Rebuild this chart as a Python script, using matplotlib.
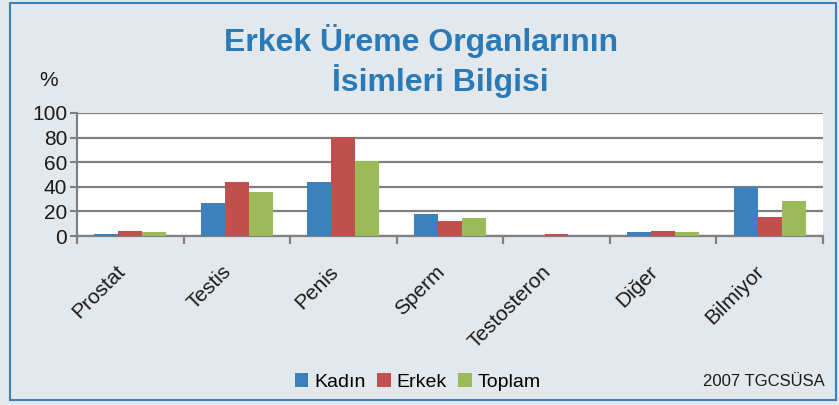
import numpy as np
import matplotlib.pyplot as plt
import matplotlib.transforms as mtrans
from matplotlib.patches import Rectangle

plt.rcParams['font.family'] = ['Liberation Sans', 'DejaVu Sans']

categories = ['Prostat', 'Testis', 'Penis', 'Sperm', 'Testosteron', 'Diğer', 'Bilmiyor']
kadin = [1.6, 26.6, 44.0, 17.6, 0.0, 3.0, 39.8]
erkek = [3.8, 43.9, 80.2, 11.9, 1.4, 3.8, 15.4]
toplam = [3.0, 35.8, 60.7, 14.4, 0.0, 3.0, 28.2]
series_names = ['Kadın', 'Erkek', 'Toplam']
colors = ['#3c80bd', '#c0504d', '#9bbb59']
yticks = [0, 20, 40, 60, 80, 100]

bg = '#e3e8ec'
grid_col = '#808080'
txt_col = '#1a1a1a'

fig = plt.figure(figsize=(8.39, 4.05), dpi=100, facecolor=bg)
ax = fig.add_axes([0.0918, 0.417, 0.889, 0.304])
ax.set_facecolor('white')

x = np.arange(len(categories))
w = 0.225
for i, (vals, name, c) in enumerate(zip([kadin, erkek, toplam], series_names, colors)):
    ax.bar(x + (i - 1) * w, vals, width=w, color=c, label=name, zorder=3)

ax.set_xlim(-0.5, len(categories) - 0.5)
ax.set_ylim(0, 100)
ax.set_yticks(yticks)
ax.yaxis.grid(True, color=grid_col, lw=1.6, zorder=1)
ax.tick_params(axis='y', length=5, width=1.5, color=grid_col, labelsize=15,
               labelcolor=txt_col, pad=2)

ax.set_xticks(np.arange(-0.5, len(categories)), minor=False)
ax.set_xticklabels([])
ax.tick_params(axis='x', length=6, width=1.6, color=grid_col)
ax.set_xticks(x, minor=True)
labs = ax.set_xticklabels(categories, minor=True, rotation=45, ha='right',
                          rotation_mode='anchor', fontsize=15, color=txt_col)
ax.tick_params(axis='x', which='minor', length=0, pad=20)
shift = mtrans.ScaledTranslation(-15 / 100, 2 / 100, fig.dpi_scale_trans)
for t in labs:
    t.set_transform(t.get_transform() + shift)

for s in ['top', 'right']:
    ax.spines[s].set_visible(False)
for s in ['left', 'bottom']:
    ax.spines[s].set_color(grid_col)
    ax.spines[s].set_linewidth(1.6)

fig.text(0.502, 0.90, 'Erkek Üreme Organlarının', ha='center', va='center',
         fontsize=23, fontweight='bold', color='#2a7ab8')
fig.text(0.525, 0.80, 'İsimleri Bilgisi', ha='center', va='center',
         fontsize=23, fontweight='bold', color='#2a7ab8')
fig.text(0.058, 0.80, '%', ha='center', va='center', fontsize=15, color=txt_col)

handles, labels = ax.get_legend_handles_labels()
fig.legend(handles, labels, loc='center', bbox_to_anchor=(0.498, 0.057), ncol=3,
           frameon=False, fontsize=14, handlelength=0.7, handleheight=0.7,
           handletextpad=0.3, columnspacing=0.6)
fig.text(0.983, 0.057, '2007 TGCSÜSA', ha='right', va='center', fontsize=12, color=txt_col)

fig.patches.append(Rectangle((0.012, 0.012), 0.985, 0.98, transform=fig.transFigure,
                             fill=False, edgecolor='#3a7fbf', lw=1.5))

fig.savefig('out.png', dpi=100, facecolor=bg)
